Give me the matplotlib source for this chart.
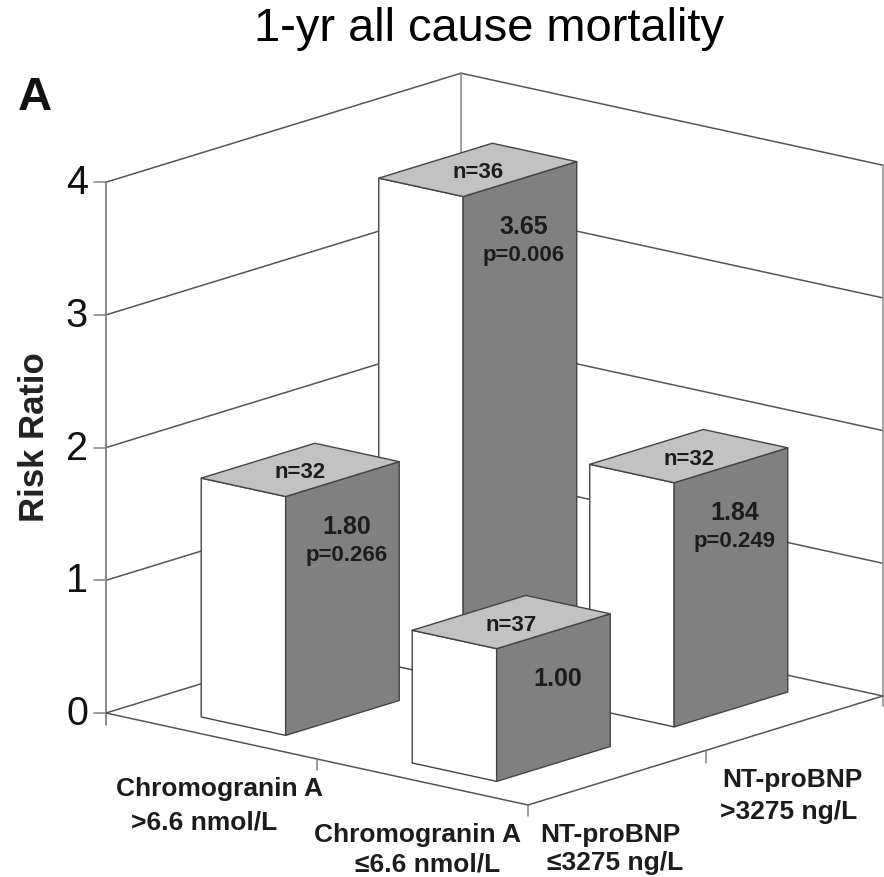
import matplotlib
matplotlib.use("Agg")
import matplotlib.pyplot as plt
from matplotlib.patches import Polygon

plt.rcParams['font.family'] = ['Liberation Sans', 'DejaVu Sans']

# ---- data ----
chromogranin_idx = [1, 0, 0, 1]      # 0: >6.6, 1: <=6.6
ntprobnp_idx = [1, 1, 0, 0]          # 0: <=3275, 1: >3275
risk_ratio = [1.84, 3.65, 1.80, 1.00]
n_labels = ['n=32', 'n=36', 'n=32', 'n=37']
value_labels = ['1.84', '3.65', '1.80', '1.00']
p_labels = ['p=0.249', 'p=0.006', 'p=0.266', '']
z_ticks = [0, 1, 2, 3, 4]
chromo_labels = [('Chromogranin A', '>6.6 nmol/L'), ('Chromogranin A', '≤6.6 nmol/L')]
nt_labels = [('NT-proBNP', '≤3275 ng/L'), ('NT-proBNP', '>3275 ng/L')]
title = '1-yr all cause mortality'
panel = 'A'
ylabel = 'Risk Ratio'

# ---- parallel projection onto pixel axes ----
ORIGIN = (106.0, 714.0)
EX = (211.0, 46.0)
EY = (177.5, -54.5)
EZ = 132.7
HALF_U, HALF_V = 0.20, 0.32


def project(u, v, z=0.0):
    return (ORIGIN[0] + u * EX[0] + v * EY[0],
            ORIGIN[1] + u * EX[1] + v * EY[1] - z * EZ)


W, H = 884, 878
fig = plt.figure(figsize=(W / 100, H / 100), dpi=100)
ax = fig.add_axes([0, 0, 1, 1])
ax.set_xlim(0, W)
ax.set_ylim(H, 0)
ax.axis('off')

LINE = '#555555'
AXC = '#808080'
INK = '#1c1c1c'
zmax = max(z_ticks)
nu, nv = len(chromo_labels), len(nt_labels)


def line(a, b, color=LINE, lw=1.1, z=1):
    ax.plot([a[0], b[0]], [a[1], b[1]], color=color, lw=lw, zorder=z,
            solid_capstyle='round')


# walls
for t in z_ticks:
    line(project(0, 0, t), project(0, nv, t))
    line(project(0, nv, t), project(nu, nv, t))
    x, y = project(0, 0, t)
    line((x - 12, y), (x, y), AXC)
    ax.text(x - 18, y, str(t), ha='right', va='center', fontsize=28.5, color='#111111')
x0, y0 = project(0, 0, 0)
line((x0, y0 + 12), project(0, 0, zmax), AXC, 1.3)
line(project(0, nv, 0), project(0, nv, zmax), '#909090', 1.2)
bx, by = project(nu, nv, 0)
line((bx, by + 10), project(nu, nv, zmax), '#909090', 1.2)

# floor front edges and ticks
line(project(0, 0), project(nu, 0))
line(project(nu, 0), project(nu, nv))
for i in range(1, nu + 1):
    x, y = project(i, 0)
    line((x, y), (x, y + 11), AXC)
x, y = project(nu, 1)
line((x, y), (x, y + 12), AXC)

# bars, back to front
order = sorted(range(len(risk_ratio)), key=lambda k: (chromogranin_idx[k] - ntprobnp_idx[k]))
for rank, k in enumerate(order):
    uc = chromogranin_idx[k] + 0.5
    vc = ntprobnp_idx[k] + 0.5
    h = risk_ratio[k]
    u0, u1 = uc - HALF_U, uc + HALF_U
    v0, v1 = vc - HALF_V, vc + HALF_V
    zo = 3 + rank
    ekw = dict(edgecolor='#444444', linewidth=1.0, joinstyle='round', zorder=zo)
    ax.add_patch(Polygon([project(u0, v0, 0), project(u1, v0, 0), project(u1, v0, h), project(u0, v0, h)],
                         facecolor='white', **ekw))
    ax.add_patch(Polygon([project(u1, v0, 0), project(u1, v1, 0), project(u1, v1, h), project(u1, v0, h)],
                         facecolor='#808080', **ekw))
    ax.add_patch(Polygon([project(u0, v0, h), project(u1, v0, h), project(u1, v1, h), project(u0, v1, h)],
                         facecolor='#c2c2c2', **ekw))
    tx, ty = project(uc, vc, h)
    ax.text(tx, ty + 2, n_labels[k], ha='center', va='center', fontsize=16,
            fontweight='bold', color=INK, zorder=zo + 0.5)
    fx, fy = project(u1, vc, h)
    ax.text(fx + 4, fy + 47, value_labels[k], ha='center', va='center', fontsize=18,
            fontweight='bold', color=INK, zorder=zo + 0.5)
    if p_labels[k]:
        ax.text(fx + 4, fy + 75, p_labels[k], ha='center', va='center', fontsize=16,
                fontweight='bold', color=INK, zorder=zo + 0.5)

# category labels
chromo_pos = [((219, 789), (204, 823)), ((418, 835), (428, 865))]
nt_pos = [((610, 835), (615, 863)), ((792, 780), (789, 812))]
for labels, pos in ((chromo_labels, chromo_pos), (nt_labels, nt_pos)):
    for lab, p in zip(labels, pos):
        for s, (x, y) in zip(lab, p):
            ax.text(x, y, s, ha='center', va='center', fontsize=19,
                    fontweight='bold', color=INK)

ax.text(489, 29, title, ha='center', va='center', fontsize=33.8, color='black')
ax.text(35, 98, panel, ha='center', va='center', fontsize=34, fontweight='bold', color='#111111')
ax.text(34, 437, ylabel, ha='center', va='center', rotation=90, fontsize=25,
        fontweight='bold', color='#222222')

fig.savefig('out.png', dpi=100)
